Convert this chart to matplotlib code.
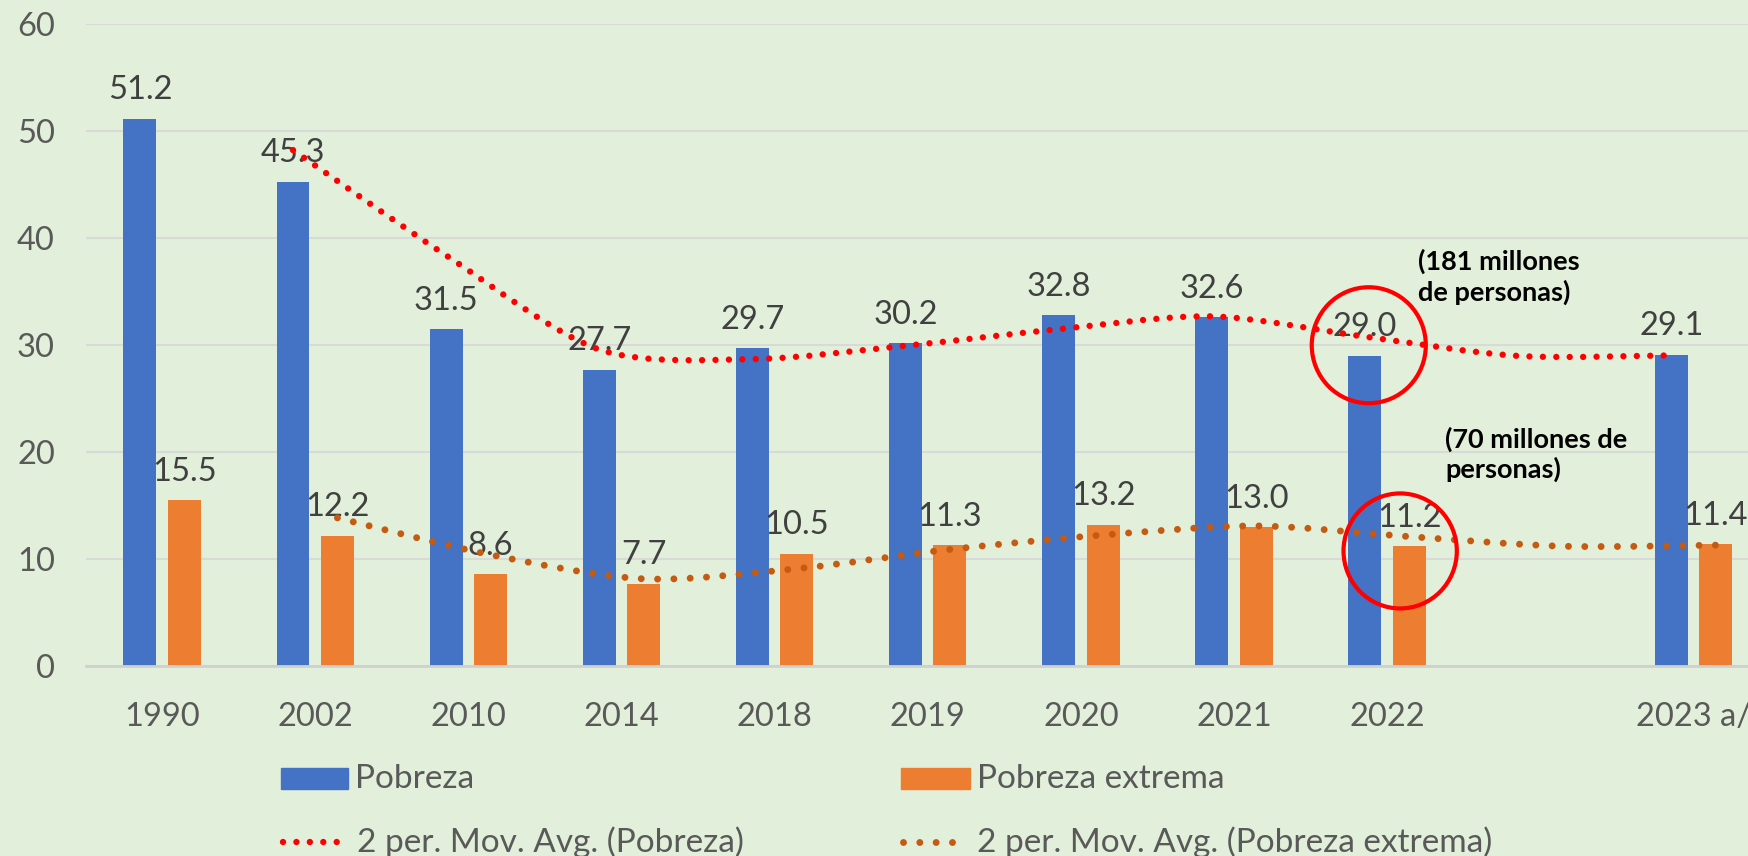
import numpy as np
import matplotlib
matplotlib.use('Agg')
import matplotlib.pyplot as plt
from matplotlib.path import Path
from matplotlib.patches import PathPatch, Ellipse, Rectangle
from matplotlib.lines import Line2D

# datos (el hueco antes de 2023 es una categoria vacia)
anios = ['1990', '2002', '2010', '2014', '2018', '2019', '2020', '2021', '2022', '', '2023 a/']
pobreza = [51.2, 45.3, 31.5, 27.7, 29.7, 30.2, 32.8, 32.6, 29.0, np.nan, 29.1]
pobreza_ext = [15.5, 12.2, 8.6, 7.7, 10.5, 11.3, 13.2, 13.0, 11.2, np.nan, 11.4]
# media movil de 2 periodos
mm_pobreza = [np.nan, 48.25, 38.4, 29.6, 28.7, 29.95, 31.5, 32.7, 30.8, 29.0, 29.05]
mm_pobreza_ext = [np.nan, 13.85, 10.4, 8.15, 9.1, 10.9, 12.25, 13.1, 12.1, 11.2, 11.3]

plt.rcParams['font.family'] = ['Lato', 'DejaVu Sans']
fondo = '#E2EFDA'
azul = '#4472C4'
naranja = '#ED7D31'
gris = '#595959'

fig = plt.figure(figsize=(17.49, 8.56), dpi=100, facecolor=fondo)
ax = fig.add_axes([0.0489, 0.2220, 0.9631, 0.7494])
ax.set_facecolor(fondo)

x = np.arange(len(anios))
ancho = 0.215
off = 0.145
ax.bar(x - off, pobreza, ancho, color=azul, zorder=2)
ax.bar(x + off, pobreza_ext, ancho, color=naranja, zorder=2)

for xi, v in zip(x, pobreza):
    if not np.isnan(v):
        ax.annotate('%.1f' % v, (xi - off, v), xytext=(0, 14), textcoords='offset points',
                    ha='center', va='baseline', fontsize=23.5, color='#404040', zorder=3)
for xi, v in zip(x, pobreza_ext):
    if not np.isnan(v):
        ax.annotate('%.1f' % v, (xi + off, v), xytext=(0, 14), textcoords='offset points',
                    ha='center', va='baseline', fontsize=23.5, color='#404040', zorder=3)


def curva_suave(xs, ys, k=7.0):
    # bezier tipo catmull-rom entre los puntos (como el suavizado de excel)
    pts = np.column_stack([xs, ys])
    verts = [pts[0]]
    codes = [Path.MOVETO]
    n = len(pts)
    for i in range(n - 1):
        p0 = pts[max(i - 1, 0)]
        p1 = pts[i]
        p2 = pts[i + 1]
        p3 = pts[min(i + 2, n - 1)]
        c1 = p1 + (p2 - p0) / k
        c2 = p2 - (p3 - p1) / k
        verts += [c1, c2, p2]
        codes += [Path.CURVE4] * 3
    return Path(verts, codes)


mm = np.array(mm_pobreza)
ok = ~np.isnan(mm)
ax.add_patch(PathPatch(curva_suave(x[ok] - off, mm[ok]), fill=False, edgecolor='#FF0000',
                       lw=4.6, linestyle=(0, (0.001, 2.1)), capstyle='round', zorder=4))
mm = np.array(mm_pobreza_ext)
ok = ~np.isnan(mm)
ax.add_patch(PathPatch(curva_suave(x[ok] + off, mm[ok]), fill=False, edgecolor='#C55A11',
                       lw=5.0, linestyle=(0, (0.001, 2.35)), capstyle='round', zorder=4))

# circulos y notas
ax.add_patch(Ellipse((7.88, 30.0), 0.745, 10.85, fill=False, edgecolor='#FF0000', lw=3, zorder=5))
ax.add_patch(Ellipse((8.085, 10.76), 0.74, 10.76, fill=False, edgecolor='#FF0000', lw=3, zorder=5))
ax.text(8.2, 39.0, '(181 millones\nde personas)', fontsize=19.5, fontweight='bold', color='black',
        va='top', ha='left', linespacing=1.25, zorder=6)
ax.text(8.38, 22.4, '(70 millones de\npersonas)', fontsize=19.5, fontweight='bold', color='black',
        va='top', ha='left', linespacing=1.25, zorder=6)

ax.set_xlim(-0.5, 10.5)
ax.set_ylim(0, 60)
ax.set_yticks(range(0, 61, 10))
ax.set_xticks(x)
ax.set_xticklabels(anios)
ax.tick_params(axis='both', length=0, labelsize=23.5, labelcolor=gris)
ax.tick_params(axis='x', pad=26)
ax.tick_params(axis='y', pad=22)
ax.grid(axis='y', color='#D9D9D9', lw=1.5, zorder=0)
ax.set_axisbelow(True)
for s in ['top', 'right', 'left']:
    ax.spines[s].set_visible(False)
ax.spines['bottom'].set_color('#D0D0D0')
ax.spines['bottom'].set_linewidth(2)

# leyenda a mano
W, H = 1749.0, 856.0
fig.add_artist(Rectangle((281 / W, 1 - 789 / H), 67 / W, 21 / H, color=azul, transform=fig.transFigure))
fig.add_artist(Rectangle((901 / W, 1 - 789 / H), 69 / W, 21 / H, color=naranja, transform=fig.transFigure))
fig.text(355 / W, 1 - 779 / H, 'Pobreza', fontsize=24, color=gris, va='center', ha='left')
fig.text(977 / W, 1 - 779 / H, 'Pobreza extrema', fontsize=24, color=gris, va='center', ha='left')
fig.add_artist(Line2D([283 / W, 338 / W], [1 - 842 / H] * 2, color='#FF0000', lw=4.6,
                      linestyle=(0, (0.001, 2.1)), dash_capstyle='round', transform=fig.transFigure))
fig.add_artist(Line2D([903 / W, 966 / W], [1 - 842 / H] * 2, color='#C55A11', lw=5.0,
                      linestyle=(0, (0.001, 2.35)), dash_capstyle='round', transform=fig.transFigure))
fig.text(357 / W, 1 - 842 / H, '2 per. Mov. Avg. (Pobreza)', fontsize=24, color=gris, va='center', ha='left')
fig.text(977 / W, 1 - 842 / H, '2 per. Mov. Avg. (Pobreza extrema)', fontsize=24, color=gris,
         va='center', ha='left')

fig.savefig('out.png', dpi=100, facecolor=fondo)
